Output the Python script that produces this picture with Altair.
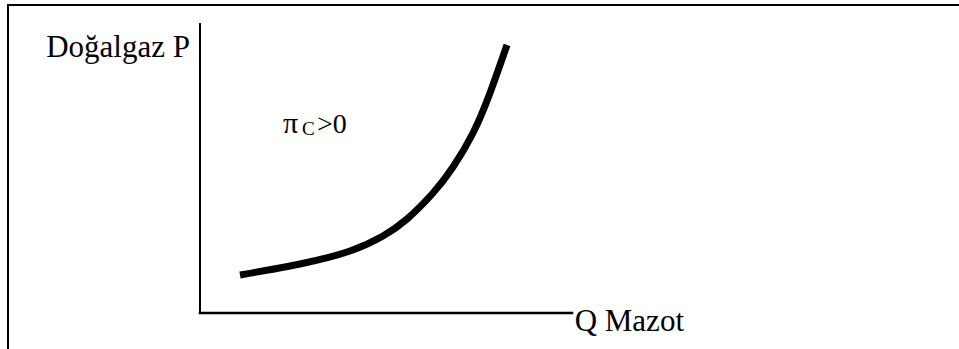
import altair as alt
import pandas as pd

# Indifference-style curve: gas price P against diesel quantity Q
curve_q = [40, 100, 150, 183, 207, 233, 253, 273, 290, 307]
curve_p = [38, 49, 62, 77, 94, 120, 146, 180, 220, 268]

# Frame and axis segments (x, y, x2, y2) in chart units
seg_x1 = [-192, -192, 0, 0]
seg_y1 = [308, 308, 0, 0]
seg_x2 = [759, -192, 0, 372]
seg_y2 = [308, -40, 289, 0]
seg_w = [2, 2, 2, 2.5]

# Text labels
label_text = ["Doğalgaz P", "Q Mazot", "π", "C", ">0"]
label_x = [-10, 484, 83, 102, 117]
label_y = [256, -18, 180, 178, 180]
label_size = [31, 31, 30, 19, 28]
label_align = ["right", "right", "left", "left", "left"]

SERIF = "Liberation Serif, Times New Roman, Times, serif"

W, H = 959, 349
xs = alt.Scale(domain=[-200, 759], range=[0, W])
ys = alt.Scale(domain=[-36, 313], range=[H, 0])

curve_df = pd.DataFrame({"q": curve_q, "p": curve_p})
seg_df = pd.DataFrame({"x": seg_x1, "y": seg_y1, "x2": seg_x2, "y2": seg_y2, "w": seg_w})
lab_df = pd.DataFrame({"t": label_text, "x": label_x, "y": label_y,
                       "s": label_size, "a": label_align})

segments = alt.Chart(seg_df).mark_rule(color="black", strokeCap="square").encode(
    x=alt.X("x:Q", scale=xs, axis=None),
    y=alt.Y("y:Q", scale=ys, axis=None),
    x2="x2:Q",
    y2="y2:Q",
    strokeWidth=alt.StrokeWidth("w:Q", scale=None, legend=None),
)

curve = alt.Chart(curve_df).mark_line(
    color="black", strokeWidth=7, interpolate="natural", strokeCap="butt"
).encode(
    x=alt.X("q:Q", scale=xs, axis=None),
    y=alt.Y("p:Q", scale=ys, axis=None),
)

def text_layer(i):
    row = lab_df.iloc[[i]]
    return alt.Chart(row).mark_text(
        font=SERIF, fontSize=label_size[i], align=label_align[i],
        baseline="alphabetic", color="black",
    ).encode(
        x=alt.X("x:Q", scale=xs, axis=None),
        y=alt.Y("y:Q", scale=ys, axis=None),
        text="t:N",
    )

texts = [text_layer(i) for i in range(len(label_text))]

chart = alt.layer(segments, curve, *texts).properties(
    width=W, height=H,
    autosize=alt.AutoSizeParams(type="none"),
    padding=0,
    background="white",
).configure_view(stroke=None)

chart.save("out.html", embed_options={"renderer": "svg", "actions": False})
